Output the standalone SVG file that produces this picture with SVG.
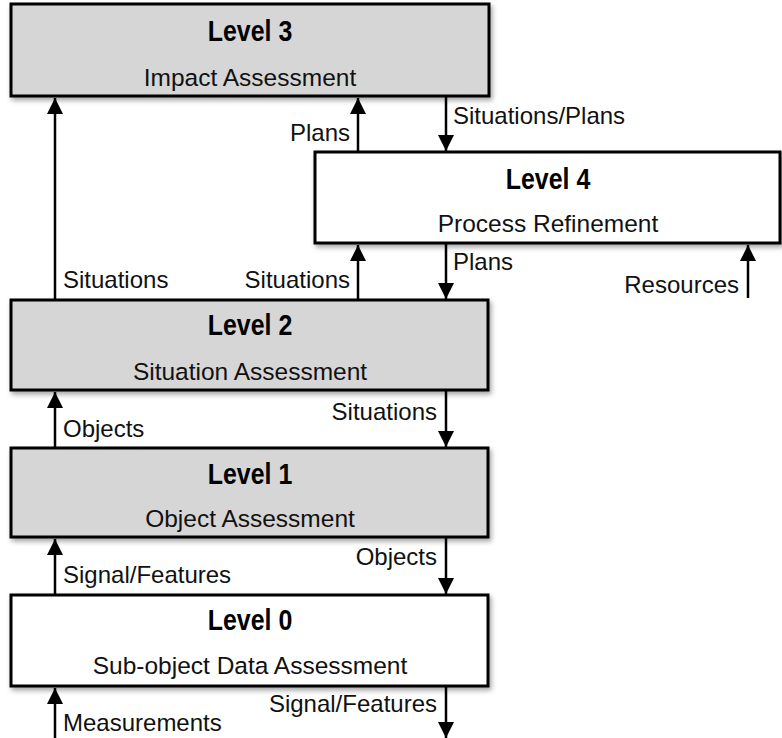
<svg xmlns="http://www.w3.org/2000/svg" width="782" height="738" viewBox="0 0 782 738">
  <style>
    .box { stroke: #000; stroke-width: 3; }
    .grey { fill: #d6d6d6; }
    .white { fill: #fff; }
    .title { font-family: "Liberation Sans", Arial, sans-serif; font-weight: bold; font-size: 29px; text-anchor: middle; fill: #000; }
    .sub { font-family: "Liberation Sans", Arial, sans-serif; font-size: 24.5px; text-anchor: middle; fill: #111; }
    .lbl { font-family: "Liberation Sans", Arial, sans-serif; font-size: 24px; fill: #111; }
    .end { text-anchor: end; }
    .wire { stroke: #000; stroke-width: 2.5; fill: none; marker-end: url(#head); }
  </style>
  <defs>
    <filter id="shadow" x="-5%" y="-10%" width="110%" height="130%">
      <feDropShadow dx="2" dy="3" stdDeviation="2.5" flood-color="#000" flood-opacity="0.35"/>
    </filter>
    <marker id="head" markerUnits="userSpaceOnUse" markerWidth="16" markerHeight="18" viewBox="0 0 16 18" refX="16" refY="8" orient="auto">
      <path d="M0,0 L16,8 L0,16 Z" fill="#000"/>
    </marker>
  </defs>

  <!-- Level 3 -->
  <g id="level3">
    <rect class="box grey" x="11" y="4" width="478" height="92" filter="url(#shadow)"/>
    <text class="title" x="250" y="41" transform="translate(250 0) scale(0.86 1) translate(-250 0)">Level 3</text>
    <text class="sub" x="250" y="86">Impact Assessment</text>
  </g>

  <!-- Level 4 -->
  <g id="level4">
    <rect class="box white" x="315" y="152" width="465" height="91" filter="url(#shadow)"/>
    <text class="title" x="548" y="189" transform="translate(548 0) scale(0.86 1) translate(-548 0)">Level 4</text>
    <text class="sub" x="548" y="232">Process Refinement</text>
  </g>

  <!-- Level 2 -->
  <g id="level2">
    <rect class="box grey" x="11" y="300" width="477" height="90" filter="url(#shadow)"/>
    <text class="title" x="250" y="335" transform="translate(250 0) scale(0.86 1) translate(-250 0)">Level 2</text>
    <text class="sub" x="250" y="380">Situation Assessment</text>
  </g>

  <!-- Level 1 -->
  <g id="level1">
    <rect class="box grey" x="11" y="448" width="477" height="89" filter="url(#shadow)"/>
    <text class="title" x="250" y="484" transform="translate(250 0) scale(0.86 1) translate(-250 0)">Level 1</text>
    <text class="sub" x="250" y="527">Object Assessment</text>
  </g>

  <!-- Level 0 -->
  <g id="level0">
    <rect class="box white" x="11" y="595" width="477" height="91" filter="url(#shadow)"/>
    <text class="title" x="250" y="630" transform="translate(250 0) scale(0.86 1) translate(-250 0)">Level 0</text>
    <text class="sub" x="250" y="674">Sub-object Data Assessment</text>
  </g>

  <!-- Connectors -->
  <g id="connectors">
    <line class="wire" x1="55" y1="299" x2="55" y2="98"/>
    <line class="wire" x1="358" y1="152" x2="358" y2="98"/>
    <line class="wire" x1="446" y1="97" x2="446" y2="151"/>
    <line class="wire" x1="358" y1="299" x2="358" y2="245"/>
    <line class="wire" x1="446" y1="244" x2="446" y2="299"/>
    <line class="wire" x1="748" y1="298" x2="748" y2="245"/>
    <line class="wire" x1="55" y1="447" x2="55" y2="392"/>
    <line class="wire" x1="446" y1="391" x2="446" y2="447"/>
    <line class="wire" x1="55" y1="594" x2="55" y2="539"/>
    <line class="wire" x1="446" y1="538" x2="446" y2="594"/>
    <line class="wire" x1="55" y1="738" x2="55" y2="688"/>
    <line class="wire" x1="446" y1="687" x2="446" y2="738"/>
  </g>

  <!-- Connector labels -->
  <g id="labels">
    <text class="lbl end" x="350" y="141">Plans</text>
    <text class="lbl" x="453" y="124">Situations/Plans</text>
    <text class="lbl" x="453" y="270">Plans</text>
    <text class="lbl end" x="739" y="293">Resources</text>
    <text class="lbl" x="63" y="288">Situations</text>
    <text class="lbl end" x="350" y="288">Situations</text>
    <text class="lbl" x="63" y="437">Objects</text>
    <text class="lbl end" x="437" y="420">Situations</text>
    <text class="lbl" x="63" y="583">Signal/Features</text>
    <text class="lbl end" x="437" y="565">Objects</text>
    <text class="lbl" x="63" y="731">Measurements</text>
    <text class="lbl end" x="437" y="712">Signal/Features</text>
  </g>
</svg>
